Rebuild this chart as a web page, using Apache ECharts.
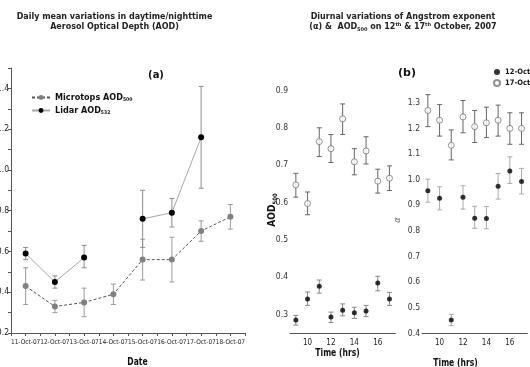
<!DOCTYPE html>
<html>
<head>
<meta charset="utf-8">
<script src="https://cdn.jsdelivr.net/npm/echarts@6/dist/echarts.min.js"></script>
<style>
  html, body {margin: 0; padding: 0; background: #fff;}
  #main {width: 530px; height: 367px;}
</style>
</head>
<body>
<div id="main"></div>
<script>
// panel (a): daily means
const dates = ['11-Oct-07', '12-Oct-07', '13-Oct-07', '14-Oct-07', '15-Oct-07', '16-Oct-07', '17-Oct-07', '18-Oct-07'];
const microtops = [0.43, 0.33, 0.35, 0.39, 0.56, 0.56, 0.70, 0.77];
const microtopsLow = [0.34, 0.30, 0.28, 0.34, 0.46, 0.45, 0.65, 0.71];
const microtopsHigh = [0.52, 0.36, 0.42, 0.44, 0.66, 0.67, 0.75, 0.83];
const lidar = [0.59, 0.45, 0.57, null, 0.76, 0.79, 1.16, null];
const lidarLow = [0.56, 0.42, 0.52, null, 0.62, 0.72, 0.91, null];
const lidarHigh = [0.62, 0.48, 0.63, null, 0.90, 0.86, 1.41, null];

// panel (b): hourly values
const hours = [9, 10, 11, 12, 13, 14, 15, 16, 17];
const aod12 = [0.285, 0.341, 0.375, 0.293, 0.311, 0.304, 0.309, 0.384, 0.341];
const aod12Low = [0.271, 0.324, 0.357, 0.278, 0.296, 0.289, 0.294, 0.363, 0.324];
const aod12High = [0.297, 0.360, 0.392, 0.306, 0.328, 0.319, 0.324, 0.402, 0.359];
const aod17 = [0.647, 0.597, 0.763, 0.744, 0.824, 0.709, 0.738, 0.657, 0.665];
const aod17Low = [0.614, 0.567, 0.723, 0.707, 0.782, 0.674, 0.703, 0.625, 0.632];
const aod17High = [0.678, 0.628, 0.800, 0.782, 0.864, 0.744, 0.776, 0.689, 0.698];
const alpha12 = [0.957, 0.927, 0.452, 0.931, 0.849, 0.848, 0.974, 1.034, 0.993];
const alpha12Low = [0.912, 0.882, 0.430, 0.885, 0.810, 0.808, 0.924, 0.985, 0.944];
const alpha12High = [1.002, 0.972, 0.474, 0.976, 0.896, 0.895, 1.024, 1.089, 1.044];
const alpha17 = [1.270, 1.232, 1.134, 1.245, 1.207, 1.222, 1.232, 1.200, 1.200];
const alpha17Low = [1.207, 1.170, 1.077, 1.183, 1.145, 1.164, 1.170, 1.138, 1.138];
const alpha17High = [1.332, 1.293, 1.194, 1.309, 1.270, 1.283, 1.291, 1.261, 1.261];

const narrow = "'Liberation Sans Narrow', 'DejaVu Sans Condensed', 'Liberation Sans', sans-serif";
const verdana = "'DejaVu Sans', Verdana, sans-serif";

function errorBars(grid, xs, low, high, color, cap) {
  return {
    type: 'custom', xAxisIndex: grid, yAxisIndex: grid, silent: true, z: 1,
    data: xs.map((x, i) => [x, low[i], high[i]]).filter(d => d[1] != null),
    renderItem(params, api) {
      const lo = api.coord([api.value(0), api.value(1)]);
      const hi = api.coord([api.value(0), api.value(2)]);
      const style = {stroke: color, lineWidth: 1};
      return {type: 'group', children: [
        {type: 'line', shape: {x1: lo[0], y1: lo[1], x2: hi[0], y2: hi[1]}, style},
        {type: 'line', shape: {x1: lo[0] - cap, y1: lo[1], x2: lo[0] + cap, y2: lo[1]}, style},
        {type: 'line', shape: {x1: hi[0] - cap, y1: hi[1], x2: hi[0] + cap, y2: hi[1]}, style}
      ]};
    }
  };
}

const tenths = v => Math.round(v * 100) % 10 === 0;
const axisBase = {
  axisLine: {lineStyle: {color: '#555', width: 1}},
  axisTick: {length: 3, lineStyle: {color: '#555'}},
  splitLine: {show: false}
};

const idx = hours.map((h, i) => i);
const dayIdx = dates.map((d, i) => i + 1);

const chart = echarts.init(document.getElementById('main'));
chart.setOption({
  backgroundColor: '#fff',
  animation: false,
  grid: [
    {left: 11, top: 68, width: 234, height: 265, containLabel: false, outerBoundsMode: 'none'},
    {left: 290, top: 90.5, width: 105.3, height: 242.5, containLabel: false, outerBoundsMode: 'none'},
    {left: 422, top: 90, width: 105.4, height: 243.3, containLabel: false, outerBoundsMode: 'none'}
  ],
  xAxis: [
    Object.assign({}, axisBase, {
      gridIndex: 0, type: 'value', min: 0.5, max: 8.5, interval: 0.5,
      axisLabel: {fontFamily: narrow, fontSize: 6.5, color: '#222', margin: 6, hideOverlap: false,
        formatter: v => Number.isInteger(v) ? dates[v - 1] : ''}
    }),
    Object.assign({}, axisBase, {
      gridIndex: 1, type: 'category', data: hours.map(String), boundaryGap: true,
      axisTick: {length: 3, alignWithLabel: true, interval: 0, lineStyle: {color: '#555'}},
      axisLabel: {fontFamily: narrow, fontSize: 8, color: '#222', margin: 6,
        interval: (i, v) => Number(v) % 2 === 0}
    }),
    Object.assign({}, axisBase, {
      gridIndex: 2, type: 'category', data: hours.map(String), boundaryGap: true,
      axisTick: {length: 3, alignWithLabel: true, interval: 0, lineStyle: {color: '#555'}},
      axisLabel: {fontFamily: narrow, fontSize: 8, color: '#222', margin: 6,
        interval: (i, v) => Number(v) % 2 === 0}
    })
  ],
  yAxis: [
    Object.assign({}, axisBase, {
      gridIndex: 0, type: 'value', min: 0.2, max: 1.5, interval: 0.1,
      axisLabel: {fontFamily: narrow, fontSize: 8.5, color: '#222', margin: 2,
        formatter: v => Math.round(v * 10) % 2 === 0 ? v.toFixed(1) : ''}
    }),
    Object.assign({}, axisBase, {
      gridIndex: 1, type: 'value', min: 0.25, max: 0.9, interval: 0.05,
      axisLabel: {fontFamily: narrow, fontSize: 8.5, color: '#333', margin: 2,
        formatter: v => tenths(v) ? v.toFixed(1) : ''}
    }),
    Object.assign({}, axisBase, {
      gridIndex: 2, type: 'value', min: 0.4, max: 1.35, interval: 0.05,
      axisLabel: {fontFamily: narrow, fontSize: 8.5, color: '#333', margin: 2,
        formatter: v => tenths(v) ? v.toFixed(1) : ''}
    })
  ],
  legend: [
    {
      data: ['Microtops', 'Lidar'], orient: 'vertical', left: 31, top: 93,
      itemWidth: 18, itemHeight: 6, itemGap: 4, padding: 0,
      textStyle: {
        fontFamily: narrow, fontWeight: 'bold', fontSize: 9, color: '#111',
        rich: {
          a: {fontFamily: narrow, fontWeight: 'bold', fontSize: 9, color: '#111'},
          s: {fontFamily: narrow, fontWeight: 'bold', fontSize: 5, color: '#111', verticalAlign: 'bottom', padding: [4, 0, 0, 0]}
        }
      },
      formatter: n => n === 'Microtops' ? '{a|Microtops AOD}{s|500}' : '{a|Lidar AOD}{s|532}'
    },
    {
      data: ['12-Oct', '17-Oct'], orient: 'vertical', left: 493, top: 68,
      itemWidth: 6, itemHeight: 6, itemGap: 3, padding: 0,
      textStyle: {fontFamily: narrow, fontWeight: 'bold', fontSize: 7.5, color: '#111', overflow: 'none'}
    }
  ],
  series: [
    errorBars(0, dayIdx, microtopsLow, microtopsHigh, '#9a9a9a', 2.5),
    errorBars(0, dayIdx, lidarLow, lidarHigh, '#8c8c8c', 2.5),
    {
      name: 'Microtops', type: 'line', xAxisIndex: 0, yAxisIndex: 0, z: 3,
      data: microtops.map((v, i) => [i + 1, v]),
      symbol: 'circle', symbolSize: 6,
      itemStyle: {color: '#808080'},
      lineStyle: {color: '#555', width: 1, type: [3, 2]}
    },
    {
      name: 'Lidar', type: 'line', xAxisIndex: 0, yAxisIndex: 0, z: 3,
      data: lidar.map((v, i) => [i + 1, v == null ? '-' : v]),
      connectNulls: false,
      symbol: 'circle', symbolSize: 6,
      itemStyle: {color: '#000'},
      lineStyle: {color: '#a8a8a8', width: 1}
    },
    errorBars(1, idx, aod17Low, aod17High, '#666', 2.5),
    errorBars(1, idx, aod12Low, aod12High, '#888', 2.5),
    errorBars(2, idx, alpha17Low, alpha17High, '#666', 2.5),
    errorBars(2, idx, alpha12Low, alpha12High, '#aaa', 2.5),
    {
      name: '12-Oct', type: 'scatter', xAxisIndex: 1, yAxisIndex: 1, z: 3,
      data: aod12, symbol: 'circle', symbolSize: 5, itemStyle: {color: '#000'}
    },
    {
      name: '17-Oct', type: 'scatter', xAxisIndex: 1, yAxisIndex: 1, z: 3,
      data: aod17, symbol: 'circle', symbolSize: 6,
      itemStyle: {color: '#fff', borderColor: '#777', borderWidth: 1}
    },
    {
      name: '12-Oct', type: 'scatter', xAxisIndex: 2, yAxisIndex: 2, z: 3,
      data: alpha12, symbol: 'circle', symbolSize: 5, itemStyle: {color: '#000'}
    },
    {
      name: '17-Oct', type: 'scatter', xAxisIndex: 2, yAxisIndex: 2, z: 3,
      data: alpha17, symbol: 'circle', symbolSize: 6,
      itemStyle: {color: '#fff', borderColor: '#777', borderWidth: 1}
    }
  ],
  graphic: [
    {type: 'text', x: 114.5, y: 22, style: {
      text: 'Daily mean variations in daytime/nighttime\nAerosol Optical Depth (AOD)',
      font: 'bold 8px ' + verdana, fill: '#222', align: 'center', verticalAlign: 'middle', lineHeight: 10}},
    {type: 'text', x: 403, y: 17, style: {
      text: 'Diurnal variations of Angstrom exponent',
      font: 'bold 8px ' + verdana, fill: '#222', align: 'center', verticalAlign: 'middle'}},
    {type: 'text', x: 403, y: 27, style: {
      text: '{t|(α) &  AOD}{b|500}{t| on 12}{p|th}{t| & 17}{p|th}{t| October, 2007}',
      align: 'center', verticalAlign: 'middle',
      rich: {
        t: {font: 'bold 8px ' + verdana, fill: '#222', lineHeight: 10},
        b: {font: 'bold 5px ' + verdana, fill: '#222', lineHeight: 10, verticalAlign: 'bottom'},
        p: {font: 'bold 5px ' + verdana, fill: '#222', lineHeight: 10, verticalAlign: 'top'}
      }}},
    {type: 'text', x: 156, y: 75, style: {
      text: '(a)', font: 'bold 10px ' + verdana, fill: '#111', align: 'center', verticalAlign: 'middle'}},
    {type: 'text', x: 407, y: 73, style: {
      text: '(b)', font: 'bold 11px ' + verdana, fill: '#111', align: 'center', verticalAlign: 'middle'}},
    {type: 'text', x: 137.5, y: 362, scaleX: 0.85, style: {
      text: 'Date', font: 'bold 10px ' + narrow, fill: '#111', align: 'center', verticalAlign: 'middle'}},
    {type: 'text', x: 337.5, y: 353, scaleX: 0.85, style: {
      text: 'Time (hrs)', font: 'bold 10px ' + narrow, fill: '#111', align: 'center', verticalAlign: 'middle'}},
    {type: 'text', x: 455.5, y: 363, scaleX: 0.85, style: {
      text: 'Time (hrs)', font: 'bold 10px ' + narrow, fill: '#111', align: 'center', verticalAlign: 'middle'}},
    {type: 'text', x: 272, y: 210, rotation: Math.PI / 2, style: {
      text: '{t|AOD}{b|500}', align: 'center', verticalAlign: 'middle',
      rich: {
        t: {font: 'bold 10px ' + narrow, fill: '#111', lineHeight: 12},
        b: {font: 'bold 6px ' + narrow, fill: '#111', lineHeight: 12, verticalAlign: 'bottom'}
      }}},
    {type: 'text', x: 398, y: 220, rotation: Math.PI / 2, style: {
      text: 'α', font: 'italic 8px ' + verdana, fill: '#666', align: 'center', verticalAlign: 'middle'}}
  ]
});
</script>
</body>
</html>
